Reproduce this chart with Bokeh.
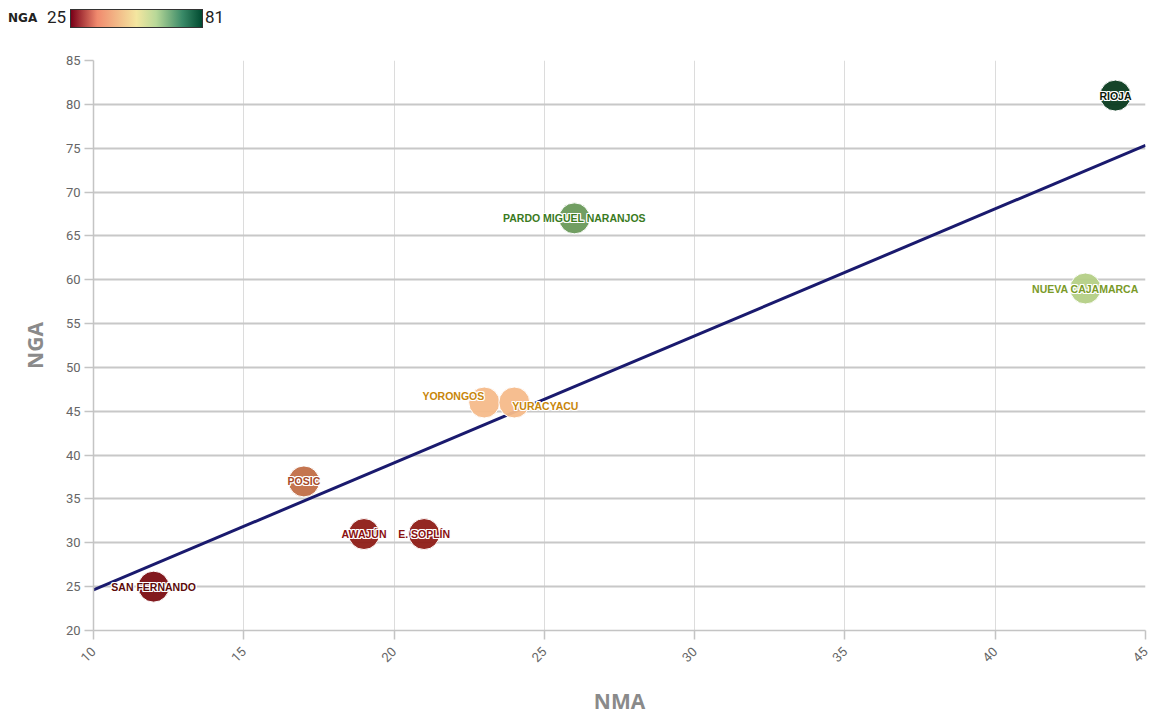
import numpy as np
from bokeh.plotting import figure
from bokeh.models import ColumnDataSource, LinearColorMapper, FixedTicker, Range1d, Div
from bokeh.layouts import column
from bokeh.core.properties import value
from bokeh.embed import file_html
from bokeh.resources import INLINE

# ---------------- data ----------------
names = ["SAN FERNANDO", "POSIC", "AWAJÚN", "E. SOPLÍN", "YORONGOS",
         "YURACYACU", "PARDO MIGUEL NARANJOS", "NUEVA CAJAMARCA", "RIOJA"]
nma = [12, 17, 19, 21, 23, 24, 26, 43, 44]
nga = [25, 37, 31, 31, 46, 46, 67, 59, 81]
x_ticks = [10, 15, 20, 25, 30, 35, 40, 45]
y_ticks = [20, 25, 30, 35, 40, 45, 50, 55, 60, 65, 70, 75, 80, 85]
nga_min, nga_max = 25, 81

# ---------------- styling ----------------
label_colors = ["#5c0a0a", "#a84a28", "#8b1010", "#8b1010", "#c8860a",
                "#c8860a", "#3a7a1e", "#7a9a28", "#0a1a0a"]
label_align = {"YORONGOS": ("right", 0, -7), "YURACYACU": ("left", -2, 3)}

stops = [(0.0, "#7b0d12"), (0.107, "#8e1c16"), (0.214, "#c27048"),
         (0.375, "#f5b98a"), (0.5, "#f2e6a2"), (0.607, "#b4cf86"),
         (0.75, "#6a9a5a"), (0.88, "#2e7a5a"), (1.0, "#083a1e")]
legend_stops = [(0.0, "#7a0018"), (0.2, "#f08a6e"), (0.5, "#f4e6a0"),
                (0.65, "#b8d898"), (0.85, "#3a8a68"), (1.0, "#004a30")]


def hex2rgb(h):
    h = h.lstrip("#")
    return [int(h[i:i + 2], 16) for i in (0, 2, 4)]


pos = np.array([s[0] for s in stops])
cols = np.array([hex2rgb(s[1]) for s in stops], dtype=float)
tt = np.linspace(0, 1, 256)
palette = ["#%02x%02x%02x" % tuple(int(round(np.interp(t, pos, cols[:, k]))) for k in range(3)) for t in tt]
mapper = LinearColorMapper(palette=palette, low=nga_min, high=nga_max)

W, H = 1153, 718
LEG_H = 38

# ---------------- legend strip (HTML) ----------------
grad_css = ", ".join(f"{c} {s * 100:.0f}%" for s, c in legend_stops)
legend_html = f"""
<div style="position:relative;width:{W}px;height:{LEG_H}px;">
  <span style="position:absolute;left:8px;top:10px;font-family:'DejaVu Sans';font-weight:bold;font-size:12px;color:#222;line-height:16px;">NGA</span>
  <span style="position:absolute;left:47px;top:7px;font-family:'Roboto';font-size:17px;color:#222;line-height:20px;">{nga_min}</span>
  <span style="position:absolute;left:70px;top:9px;width:133px;height:19px;box-sizing:border-box;border:1px solid #333;background:linear-gradient(to right, {grad_css});"></span>
  <span style="position:absolute;left:205px;top:7px;font-family:'Roboto';font-size:17px;color:#222;line-height:20px;">{nga_max}</span>
</div>
"""
leg = Div(text=legend_html, width=W, height=LEG_H, margin=(0, 0, 0, 0))

# ---------------- main plot ----------------
p = figure(width=W, height=H - LEG_H, x_range=Range1d(x_ticks[0], x_ticks[-1]),
           y_range=Range1d(y_ticks[0], y_ticks[-1]),
           toolbar_location=None, output_backend="svg",
           min_border_left=93, min_border_right=8, min_border_top=60 - LEG_H, min_border_bottom=87)
p.outline_line_color = None
p.background_fill_color = "white"

p.xaxis.ticker = FixedTicker(ticks=x_ticks)
p.yaxis.ticker = FixedTicker(ticks=y_ticks)
p.ygrid.grid_line_color = "#c8c8c8"
p.ygrid.grid_line_width = 2
p.xgrid.grid_line_color = "#dcdcdc"
p.xgrid.grid_line_width = 1

for ax in (p.xaxis, p.yaxis):
    ax.axis_line_color = "#c4c4c4"
    ax.axis_line_width = 1.5
    ax.major_tick_line_color = "#c4c4c4"
    ax.major_tick_line_width = 1.5
    ax.major_tick_out = 9
    ax.major_tick_in = 0
    ax.minor_tick_line_color = None
    ax.major_label_text_font = "Roboto"
    ax.major_label_text_font_size = "13px"
    ax.major_label_text_color = "#666666"
    ax.axis_label_text_font = "Open Sans"
    ax.axis_label_text_font_style = "bold"
    ax.axis_label_text_font_size = "21px"
    ax.axis_label_text_color = "#8a8a8a"

p.xaxis.major_label_orientation = np.pi / 4
p.xaxis.major_label_standoff = 10
p.xaxis.axis_label = "NMA"
p.yaxis.axis_label = "NGA"
p.xaxis.axis_label_standoff = 18
p.yaxis.axis_label_standoff = 14
p.yaxis.major_label_standoff = 4

# regression line
slope, intercept = np.polyfit(nma, nga, 1)
lx = [x_ticks[0], x_ticks[-1]]
ly = [slope * v + intercept for v in lx]
p.line(lx, ly, line_color="#1a1a6e", line_width=3)

aligns = [label_align.get(n, ("center", 0, 0))[0] for n in names]
xo = [label_align.get(n, ("center", 0, 0))[1] for n in names]
yo = [label_align.get(n, ("center", 0, 0))[2] for n in names]

src = ColumnDataSource(dict(x=nma, y=nga, name=names, lc=label_colors,
                            align=aligns, xo=xo, yo=yo))
p.scatter("x", "y", source=src, size=31, fill_color={"field": "y", "transform": mapper},
          fill_alpha=0.95, line_color="white", line_width=1)

# white halo behind labels
text_kw = dict(text_align="align", text_baseline="middle", text_font=value("Liberation Sans"),
               text_font_style="bold", text_font_size="10.5px")
halo = [(-1, -1), (-1, 0), (-1, 1), (0, -1), (0, 1), (1, -1), (1, 0), (1, 1)]
for dx, dy in halo:
    hs = ColumnDataSource(dict(x=nma, y=nga, name=names, align=aligns,
                               xo=[v + dx for v in xo], yo=[v + dy for v in yo]))
    p.text(x="x", y="y", text="name", source=hs, x_offset="xo", y_offset="yo",
           text_color="white", **text_kw)
p.text(x="x", y="y", text="name", source=src, x_offset="xo", y_offset="yo",
       text_color="lc", **text_kw)

layout = column(leg, p, spacing=0)
open("out.html", "w").write(file_html(layout, INLINE))
